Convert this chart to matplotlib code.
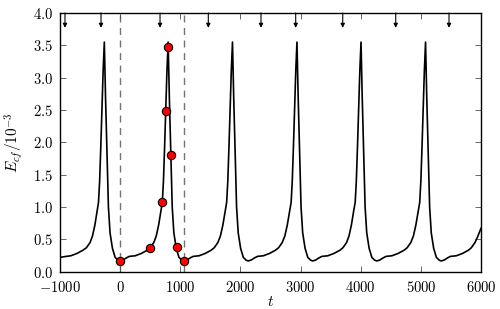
import matplotlib
matplotlib.use("Agg")
import matplotlib.pyplot as plt
from matplotlib.ticker import FuncFormatter, MultipleLocator

plt.rcParams['mathtext.fontset'] = 'cm'
plt.rcParams['font.family'] = 'serif'
plt.rcParams['font.serif'] = ['DejaVu Serif']

# energy curve (t, E_cf / 10^-3)
t = [-1000, -900, -820, -720, -620, -560, -500, -460, -420, -380, -360, -341, -321, -304, -283, -263,
     -243, -217, -195, -168, -128, -83, -33,
     0, 50, 100, 150, 250, 350, 450, 500, 560, 600, 640, 680, 701, 720, 740, 757, 778, 798,
     818, 844, 866, 893, 933, 978, 1028,
     1062, 1112, 1162, 1212, 1312, 1412, 1512, 1565, 1625, 1667, 1708, 1749, 1771, 1790, 1810, 1827, 1848, 1868,
     1888, 1914, 1936, 1963, 2003, 2048, 2098,
     2131, 2181, 2231, 2281, 2381, 2481, 2581, 2635, 2695, 2738, 2779, 2820, 2843, 2862, 2882, 2899, 2920, 2940,
     2960, 2986, 3008, 3035, 3075, 3120, 3170,
     3203, 3253, 3303, 3353, 3453, 3553, 3653, 3705, 3765, 3805, 3845, 3885, 3908, 3927, 3947, 3964, 3985, 4005,
     4025, 4051, 4073, 4100, 4140, 4185, 4235,
     4269, 4319, 4369, 4419, 4519, 4619, 4719, 4773, 4833, 4876, 4917, 4958, 4981, 5000, 5020, 5037, 5058, 5078,
     5098, 5124, 5146, 5173, 5213, 5258, 5308,
     5340, 5390, 5440, 5490, 5590, 5690, 5790, 5840, 5900, 5940, 6000]
E = [0.22, 0.235, 0.245, 0.28, 0.33, 0.37, 0.45, 0.55, 0.72, 0.95, 1.07, 1.4, 1.95, 2.49, 3.1, 3.55,
     2.7, 1.8, 1.0, 0.6, 0.36, 0.22, 0.175,
     0.165, 0.18, 0.21, 0.235, 0.245, 0.28, 0.33, 0.37, 0.45, 0.55, 0.72, 0.95, 1.07, 1.4, 1.95, 2.49, 3.1, 3.55,
     2.7, 1.8, 1.0, 0.6, 0.36, 0.22, 0.175,
     0.165, 0.18, 0.21, 0.235, 0.245, 0.28, 0.33, 0.37, 0.45, 0.55, 0.72, 0.95, 1.07, 1.4, 1.95, 2.49, 3.1, 3.55,
     2.7, 1.8, 1.0, 0.6, 0.36, 0.22, 0.175,
     0.165, 0.18, 0.21, 0.235, 0.245, 0.28, 0.33, 0.37, 0.45, 0.55, 0.72, 0.95, 1.07, 1.4, 1.95, 2.49, 3.1, 3.55,
     2.7, 1.8, 1.0, 0.6, 0.36, 0.22, 0.175,
     0.165, 0.18, 0.21, 0.235, 0.245, 0.28, 0.33, 0.37, 0.45, 0.55, 0.72, 0.95, 1.07, 1.4, 1.95, 2.49, 3.1, 3.55,
     2.7, 1.8, 1.0, 0.6, 0.36, 0.22, 0.175,
     0.165, 0.18, 0.21, 0.235, 0.245, 0.28, 0.33, 0.37, 0.45, 0.55, 0.72, 0.95, 1.07, 1.4, 1.95, 2.49, 3.1, 3.55,
     2.7, 1.8, 1.0, 0.6, 0.36, 0.22, 0.175,
     0.165, 0.18, 0.21, 0.235, 0.245, 0.28, 0.33, 0.37, 0.45, 0.53, 0.67]

# sampled points (red dots)
dot_t = [0, 496, 701, 757, 801, 846, 940, 1057]
dot_E = [0.17, 0.367, 1.07, 2.49, 3.47, 1.80, 0.38, 0.17]

# one period marked by dashed lines
period_lines = [0, 1062]

# arrows along the top
arrow_t = [-917, -318, 663, 1466, 2342, 2919, 3701, 4582, 5468]

fig = plt.figure(figsize=(5.0, 3.09), dpi=100)
ax = fig.add_axes([0.12, 0.121, 0.842, 0.837])

for x in period_lines:
    ax.axvline(x, color='0.45', linestyle=(0, (5, 4)), linewidth=1.0, zorder=1)

ax.plot(t, E, color='black', linewidth=1.2, zorder=2)
ax.plot(dot_t, dot_E, 'o', markerfacecolor='red', markeredgecolor='black',
        markersize=6, markeredgewidth=0.8, zorder=3)

for x in arrow_t:
    ax.annotate('', xy=(x, 3.77), xytext=(x, 4.0),
                arrowprops=dict(arrowstyle='-|>', color='black', lw=0.8,
                                mutation_scale=6, shrinkA=0, shrinkB=0))

ax.set_xlim(-1000, 6000)
ax.set_ylim(0, 4)
ax.xaxis.set_major_locator(MultipleLocator(1000))
ax.yaxis.set_major_locator(MultipleLocator(0.5))
ax.xaxis.set_major_formatter(FuncFormatter(lambda v, p: r'$%d$' % v))
ax.yaxis.set_major_formatter(FuncFormatter(lambda v, p: r'$%.1f$' % v))
ax.tick_params(direction='in', top=True, right=True, length=4, width=0.6,
               labelsize=10.5, color='0.3')
ax.tick_params(axis='x', pad=6)
ax.tick_params(axis='y', pad=5)
for s in ax.spines.values():
    s.set_linewidth(1.0)

ax.set_xlabel(r'$t$', fontsize=11, labelpad=0)
ax.set_ylabel(r'$E_{cf}/10^{-3}$', fontsize=11, labelpad=6)

fig.savefig('out.png', dpi=100)
